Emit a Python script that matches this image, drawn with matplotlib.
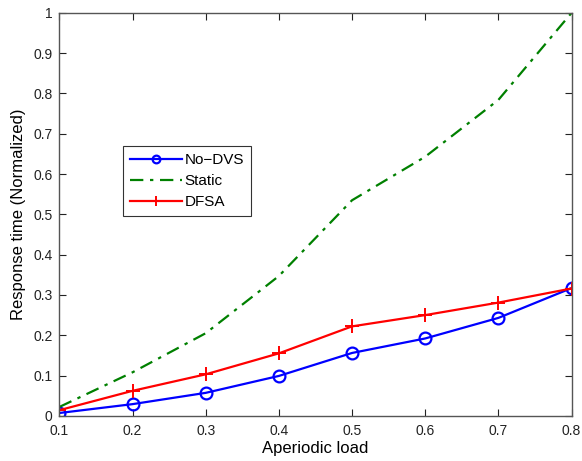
import matplotlib
matplotlib.use("Agg")
import matplotlib.pyplot as plt

load = [0.1, 0.2, 0.3, 0.4, 0.5, 0.6, 0.7, 0.8]
no_dvs = [0.007, 0.029, 0.057, 0.099, 0.156, 0.192, 0.243, 0.317]
static = [0.022, 0.108, 0.205, 0.347, 0.535, 0.643, 0.784, 1.0]
dfsa = [0.014, 0.062, 0.103, 0.155, 0.222, 0.250, 0.281, 0.316]

xticks = [0.1, 0.2, 0.3, 0.4, 0.5, 0.6, 0.7, 0.8]
yticks = [0, 0.1, 0.2, 0.3, 0.4, 0.5, 0.6, 0.7, 0.8, 0.9, 1]

plt.rcParams['font.family'] = ['Liberation Sans', 'DejaVu Sans']

fig = plt.figure(figsize=(5.82, 4.61), dpi=100)
ax = fig.add_axes([0.102, 0.098, 0.880, 0.874])

ax.plot(load, no_dvs, color='#0000ff', lw=1.6, marker='o', ms=8.5,
        mfc='none', mec='#0000ff', mew=1.6, label='No\u2212DVS')
ax.plot(load, static, color='#008000', lw=1.6, ls=(0, (6, 3, 1.5, 3)),
        label='Static')
ax.plot(load, dfsa, color='#ff0000', lw=1.6, marker='+', ms=10,
        mew=1.4, label='DFSA')

ax.set_xlim(0.1, 0.8)
ax.set_ylim(0, 1)
ax.set_xticks(xticks)
ax.set_xticklabels([f"{t:g}" for t in xticks])
ax.set_yticks(yticks)
ax.set_yticklabels([f"{t:g}" for t in yticks])
ax.tick_params(direction='in', top=True, right=True, length=5,
               labelsize=10, colors='#222222')
ax.tick_params(axis='x', pad=6)
ax.tick_params(axis='y', pad=5)
for s in ax.spines.values():
    s.set_color('#555555')
    s.set_linewidth(1.0)

ax.set_xlabel('Aperiodic load', fontsize=12, labelpad=2)
ax.set_ylabel('Response time (Normalized)', fontsize=12, labelpad=5)

leg = ax.legend(loc='upper left', bbox_to_anchor=(0.124, 0.669),
                fontsize=11, frameon=True, fancybox=False,
                edgecolor='black', handlelength=3.4, handletextpad=0.2,
                borderpad=0.45, labelspacing=0.45, borderaxespad=0,
                markerscale=0.65)
leg.get_frame().set_linewidth(0.8)

fig.savefig('out.png', dpi=100)
